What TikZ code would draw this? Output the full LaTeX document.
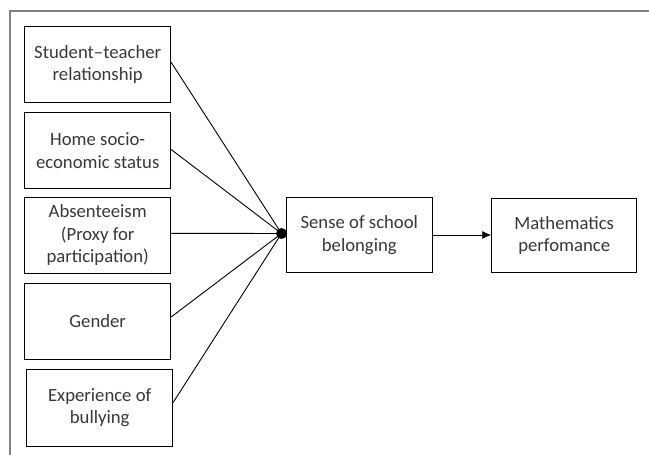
\documentclass[tikz,border=0pt]{standalone}
\usepackage{fontspec}
\setmainfont{Carlito}
\usetikzlibrary{arrows.meta}
\definecolor{txt}{HTML}{383838}
\definecolor{frame}{HTML}{7F7F7F}
\tikzset{
  box/.style={draw=black, line width=0.9bp, minimum width=146bp, minimum height=76bp,
    align=center, text=txt, inner sep=0pt, font=\fontsize{18.7bp}{22.3bp}\selectfont},
  link/.style={draw=black, line width=0.9bp},
}
\begin{document}
\begin{tikzpicture}[x=1bp,y=-1bp]
\useasboundingbox (0,0) rectangle (649,455);
\draw[frame, line width=1.3bp] (10,455) -- (10,11) -- (649,11);
\node[box] (b1) at (97.7,64.3) {Student–teacher\\relationship};
\node[box] (b2) at (97.7,150.5) {Home socio-\\economic status};
\node[box] (b3) at (97.7,235.3) {Absenteeism\\(Proxy for\\participation)};
\node[box] (b4) at (97.7,321) {Gender};
\node[box, minimum height=77bp] (b5) at (99.7,407.5) {Experience of\\bullying};
\node[box, minimum width=146.7bp, minimum height=75.4bp] (s) at (359.3,235) {Sense of school\\belonging};
\node[box, minimum width=145bp, minimum height=74.4bp] (m) at (564.2,235.5) {Mathematics\\perfomance};
\node[circle, fill=black, inner sep=0pt, minimum size=11bp] (dot) at (281.5,233.5) {};
\draw[link] ([yshift=2bp]b1.east) -- (dot.center);
\draw[link] ([yshift=1bp]b2.east) -- (dot.center);
\draw[link] ([yshift=2bp]b3.east) -- (dot.center);
\draw[link] ([yshift=4bp]b4.east) -- (dot.center);
\draw[link] ([yshift=5bp]b5.east) -- (dot.center);
\draw[link, -{Latex[length=9bp,width=8bp]}] (s.east |- 0,235) -- (m.west |- 0,235);
\end{tikzpicture}
\end{document}
